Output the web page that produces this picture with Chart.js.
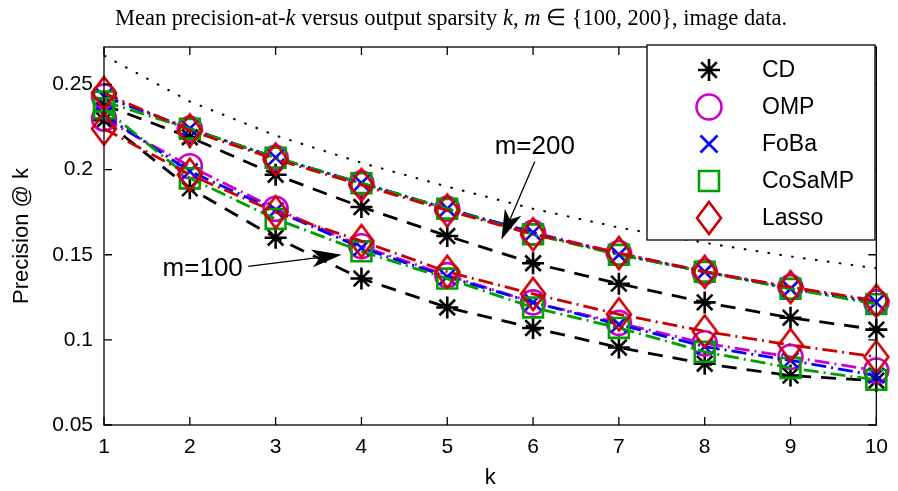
<!DOCTYPE html>
<html>
<head>
<meta charset="utf-8">
<script src="https://cdn.jsdelivr.net/npm/chart.js@4.4.0/dist/chart.umd.min.js"></script>
<style>
  html, body { margin: 0; padding: 0; background: #fff; }
  #wrap { width: 898px; height: 491px; position: relative; }
</style>
</head>
<body>
<div id="wrap"><canvas id="chart" width="898" height="491"></canvas></div>
<script>
const kValues = [1, 2, 3, 4, 5, 6, 7, 8, 9, 10];
const yTicks = [0.05, 0.1, 0.15, 0.2, 0.25];

// m = 200
const cd200     = [0.238, 0.219, 0.197, 0.178, 0.161, 0.145, 0.133, 0.122, 0.113, 0.106];
const omp200    = [0.243, 0.224, 0.207, 0.192, 0.177, 0.163, 0.151, 0.140, 0.131, 0.122];
const foba200   = [0.243, 0.224, 0.207, 0.192, 0.177, 0.163, 0.150, 0.140, 0.130, 0.122];
const cosamp200 = [0.240, 0.224, 0.207, 0.192, 0.177, 0.162, 0.150, 0.140, 0.130, 0.121];
const lasso200  = [0.245, 0.223, 0.206, 0.191, 0.176, 0.162, 0.151, 0.140, 0.131, 0.123];

// m = 100
const cd100     = [0.229, 0.189, 0.160, 0.136, 0.119, 0.107, 0.0955, 0.086, 0.079, 0.076];
const omp100    = [0.230, 0.202, 0.177, 0.155, 0.138, 0.122, 0.110, 0.098, 0.090, 0.082];
const foba100   = [0.232, 0.199, 0.176, 0.154, 0.137, 0.122, 0.109, 0.096, 0.088, 0.079];
const cosamp100 = [0.236, 0.195, 0.171, 0.152, 0.136, 0.119, 0.107, 0.093, 0.0835, 0.0765];
const lasso100  = [0.224, 0.197, 0.175, 0.158, 0.140, 0.127, 0.115, 0.105, 0.097, 0.090];

// dotted upper curve
const bound = [0.267, 0.240, 0.220, 0.204, 0.190, 0.177, 0.166, 0.157, 0.149, 0.142];

const FONT = "'Liberation Sans', Arial, Helvetica, sans-serif";
const C = {
  cd: "#000000",
  omp: "#cc00cc",
  foba: "#0000ff",
  cosamp: "#00a000",
  lasso: "#cc0000",
};

// MATLAB style diamond (taller than wide)
function makeDiamond(color) {
  const c = document.createElement("canvas");
  c.width = 30;
  c.height = 38;
  const g = c.getContext("2d");
  g.strokeStyle = color;
  g.lineWidth = 2.6;
  g.lineJoin = "miter";
  g.beginPath();
  g.moveTo(15, 3);
  g.lineTo(27, 19);
  g.lineTo(15, 35);
  g.lineTo(3, 19);
  g.closePath();
  g.stroke();
  return c;
}
const diamond = makeDiamond(C.lasso);

const toXY = (arr) => arr.map((v, i) => ({ x: kValues[i], y: v }));

function series(label, data, color, dash, style, radius) {
  return {
    label,
    data: toXY(data),
    borderColor: color,
    borderWidth: 2.8,
    borderDash: dash,
    pointStyle: style,
    pointRadius: radius,
    pointBorderColor: color,
    pointBackgroundColor: "rgba(0,0,0,0)",
    pointBorderWidth: 2.6,
    fill: false,
    tension: 0,
    clip: false,
  };
}

const dashed = [15, 10];
const dashDot = [15, 5, 2, 5];

const datasets = [
  series("Lasso", lasso200, C.lasso, dashDot, diamond, 12),
  series("Lasso", lasso100, C.lasso, dashDot, diamond, 12),
  series("CoSaMP", cosamp200, C.cosamp, dashDot, "rect", 14),
  series("CoSaMP", cosamp100, C.cosamp, dashDot, "rect", 14),
  series("FoBa", foba200, C.foba, dashDot, "crossRot", 11),
  series("FoBa", foba100, C.foba, dashDot, "crossRot", 11),
  series("OMP", omp200, C.omp, dashDot, "circle", 12),
  series("OMP", omp100, C.omp, dashDot, "circle", 12),
  series("CD", cd200, C.cd, dashed, "star", 11),
  series("CD", cd100, C.cd, dashed, "star", 11),
  {
    label: "bound",
    data: toXY(bound),
    borderColor: "#000",
    borderWidth: 2,
    borderDash: [2.5, 9.5],
    pointRadius: 0,
    fill: false,
    tension: 0,
  },
];

const legendItems = [
  { text: "CD", style: "star", color: C.cd },
  { text: "OMP", style: "circle", color: C.omp },
  { text: "FoBa", style: "crossRot", color: C.foba },
  { text: "CoSaMP", style: "rect", color: C.cosamp },
  { text: "Lasso", style: "diamond", color: C.lasso },
];

function drawMarker(ctx, style, x, y, color) {
  ctx.save();
  ctx.strokeStyle = color;
  ctx.lineWidth = 2.6;
  ctx.setLineDash([]);
  ctx.beginPath();
  if (style === "star") {
    const r = 11, d = r * Math.SQRT1_2;
    ctx.moveTo(x - r, y); ctx.lineTo(x + r, y);
    ctx.moveTo(x, y - r); ctx.lineTo(x, y + r);
    ctx.moveTo(x - d, y - d); ctx.lineTo(x + d, y + d);
    ctx.moveTo(x - d, y + d); ctx.lineTo(x + d, y - d);
    ctx.stroke();
  } else if (style === "circle") {
    ctx.arc(x, y, 12.5, 0, Math.PI * 2);
    ctx.stroke();
  } else if (style === "crossRot") {
    const d = 8.5;
    ctx.moveTo(x - d, y - d); ctx.lineTo(x + d, y + d);
    ctx.moveTo(x - d, y + d); ctx.lineTo(x + d, y - d);
    ctx.stroke();
  } else if (style === "rect") {
    ctx.rect(x - 10, y - 10, 20, 20);
    ctx.stroke();
  } else if (style === "diamond") {
    ctx.drawImage(diamond, x - diamond.width / 2, y - diamond.height / 2);
  }
  ctx.restore();
}

function drawArrow(ctx, x0, y0, x1, y1) {
  const ang = Math.atan2(y1 - y0, x1 - x0);
  const len = 30, half = 9, notch = 22;
  const ux = Math.cos(ang), uy = Math.sin(ang);
  const nx = -uy, ny = ux;
  const bx = x1 - ux * len, by = y1 - uy * len;
  const mx = x1 - ux * notch, my = y1 - uy * notch;
  ctx.save();
  ctx.strokeStyle = "#000";
  ctx.fillStyle = "#000";
  ctx.lineWidth = 1.3;
  ctx.setLineDash([]);
  ctx.beginPath();
  ctx.moveTo(x0, y0);
  ctx.lineTo(mx, my);
  ctx.stroke();
  ctx.beginPath();
  ctx.moveTo(x1, y1);
  ctx.lineTo(bx + nx * half, by + ny * half);
  ctx.lineTo(mx, my);
  ctx.lineTo(bx - nx * half, by - ny * half);
  ctx.closePath();
  ctx.fill();
  ctx.restore();
}

const decorPlugin = {
  id: "decor",
  afterDraw(chart) {
    const ctx = chart.ctx;
    const xs = chart.scales.x, ys = chart.scales.y;
    const a = chart.chartArea;

    // axes box and inward ticks
    ctx.save();
    ctx.strokeStyle = "#000";
    ctx.lineWidth = 1.3;
    ctx.strokeRect(a.left, a.top, a.right - a.left, a.bottom - a.top);
    ctx.beginPath();
    const tl = 8;
    kValues.forEach((k) => {
      const x = xs.getPixelForValue(k);
      ctx.moveTo(x, a.bottom); ctx.lineTo(x, a.bottom - tl);
      ctx.moveTo(x, a.top); ctx.lineTo(x, a.top + tl);
    });
    yTicks.forEach((v) => {
      const y = ys.getPixelForValue(v);
      ctx.moveTo(a.left, y); ctx.lineTo(a.left + tl, y);
      ctx.moveTo(a.right, y); ctx.lineTo(a.right - tl, y);
    });
    ctx.stroke();
    ctx.restore();

    // annotations
    ctx.save();
    ctx.fillStyle = "#000";
    ctx.font = "26px " + FONT;
    ctx.textAlign = "center";
    ctx.textBaseline = "middle";
    const notes = [
      { text: "m=200", at: [6.02, 0.2135], from: [6.02, 0.2047], to: [5.63, 0.1588] },
      { text: "m=100", at: [2.15, 0.1415], from: [2.68, 0.1432], to: [3.77, 0.1500] },
    ];
    notes.forEach((n) => {
      ctx.fillText(n.text, xs.getPixelForValue(n.at[0]), ys.getPixelForValue(n.at[1]));
      drawArrow(ctx,
        xs.getPixelForValue(n.from[0]), ys.getPixelForValue(n.from[1]),
        xs.getPixelForValue(n.to[0]), ys.getPixelForValue(n.to[1]));
    });
    ctx.restore();

    // legend box
    ctx.save();
    const lx = 647, ly = 45, lw = 228, lh = 195;
    ctx.fillStyle = "#fff";
    ctx.fillRect(lx, ly, lw, lh);
    ctx.strokeStyle = "#000";
    ctx.lineWidth = 1.3;
    ctx.strokeRect(lx, ly, lw, lh);
    ctx.font = "23px " + FONT;
    ctx.fillStyle = "#000";
    ctx.textAlign = "left";
    ctx.textBaseline = "middle";
    legendItems.forEach((it, i) => {
      const y = 70 + i * 37;
      drawMarker(ctx, it.style, 709, y, it.color);
      ctx.fillText(it.text, 762, y + 1);
    });
    ctx.restore();

    // title with italic math letters
    ctx.save();
    const parts = [
      ["Mean precision-at-", false],
      ["k", true],
      [" versus output sparsity ", false],
      ["k", true],
      [", ", false],
      ["m", true],
      [" \u2208 {100, 200}, image data.", false],
    ];
    const fam = "'Liberation Serif', 'Times New Roman', serif";
    const fontOf = (it) => (it ? "italic " : "") + "22.5px " + fam;
    let total = 0;
    parts.forEach(([t, it]) => { ctx.font = fontOf(it); total += ctx.measureText(t).width; });
    let x = 451 - total / 2;
    ctx.fillStyle = "#000";
    ctx.textBaseline = "alphabetic";
    ctx.textAlign = "left";
    parts.forEach(([t, it]) => {
      ctx.font = fontOf(it);
      ctx.fillText(t, x, 25);
      x += ctx.measureText(t).width;
    });
    ctx.restore();
  },
};

new Chart(document.getElementById("chart"), {
  type: "line",
  data: { datasets },
  options: {
    responsive: false,
    animation: false,
    layout: { padding: { top: 47, right: 18, left: 0, bottom: 0 } },
    plugins: {
      legend: { display: false },
      tooltip: { enabled: false },
      title: { display: false },
    },
    scales: {
      x: {
        type: "linear",
        min: 1,
        max: 10,
        afterBuildTicks: (s) => { s.ticks = kValues.map((v) => ({ value: v })); },
        ticks: { color: "#000", font: { family: FONT, size: 21 }, padding: 10, maxRotation: 0 },
        grid: { display: false, drawTicks: false },
        border: { display: false },
        title: { display: true, text: "k", color: "#000", font: { family: FONT, size: 22 }, padding: { top: 0, bottom: 0 } },
        afterFit: (s) => { s.height = 66; },
      },
      y: {
        type: "linear",
        min: 0.05,
        max: 0.272,
        afterBuildTicks: (s) => { s.ticks = yTicks.map((v) => ({ value: v })); },
        ticks: { color: "#000", font: { family: FONT, size: 21 }, padding: 11, callback: (v) => String(v) },
        grid: { display: false, drawTicks: false },
        border: { display: false },
        title: { display: true, text: "Precision @ k", color: "#000", font: { family: FONT, size: 22 }, padding: { top: 9, bottom: 0 } },
        afterFit: (s) => { s.width = 104; },
      },
    },
  },
  plugins: [decorPlugin],
});
</script>
</body>
</html>
